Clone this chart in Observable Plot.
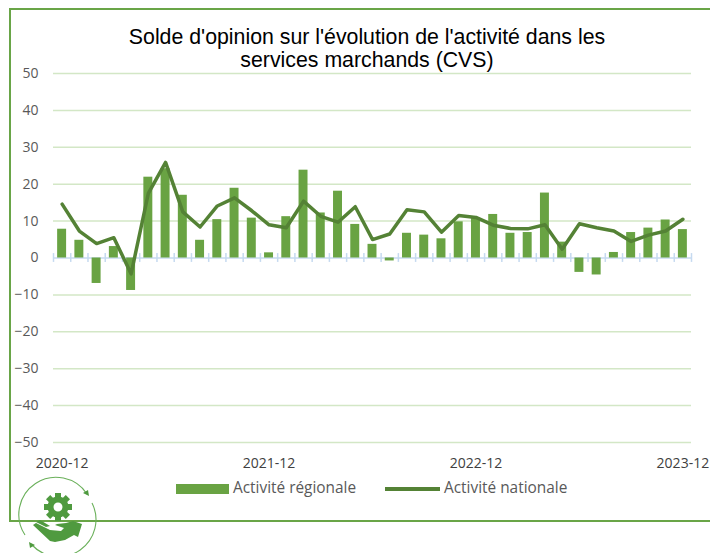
<!DOCTYPE html>
<html lang="fr">
<head>
<meta charset="utf-8">
<script src="https://cdn.jsdelivr.net/npm/d3@7"></script>
<script src="https://cdn.jsdelivr.net/npm/@observablehq/plot@0.6"></script>
<style>
html,body{margin:0;padding:0;background:#fff;width:710px;height:553px;overflow:hidden}
#wrap{position:relative;width:710px;height:553px;overflow:hidden}
#frame{position:absolute;left:9px;top:8px;width:720px;height:514px;border:2px solid #69a547;box-sizing:border-box}
#title{position:absolute;left:0;top:26px;width:734px;text-align:center;font:21.3px/23px "Liberation Sans",Arial,sans-serif;color:#000}
#legend{position:absolute;left:0;top:478px;width:710px;height:20px;font:15.4px/20px "Open Sans",sans-serif;color:#595959}
#legend span{position:absolute;top:0;white-space:nowrap}
#legend i{position:absolute;display:block}
#logo{position:absolute;left:15px;top:475px}
svg{display:block}
#chart{position:absolute;left:0;top:0}
</style>
</head>
<body>
<div id="wrap">
<div id="frame"></div>
<div id="chart"></div>
<div id="title">Solde d'opinion sur l'évolution de l'activité dans les<br>services marchands (CVS)</div>
<div id="legend">
  <i style="left:176px;top:6px;width:53px;height:10px;background:#69a343"></i><span style="left:233px">Activité régionale</span>
  <i style="left:385px;top:9px;width:55px;height:3.5px;background:#548235"></i><span style="left:444px">Activité nationale</span>
</div>
<svg id="logo" width="90" height="78" viewBox="15 475 90 78" fill="#4f9a3f">
  <g fill="none" stroke="#6ab05a" stroke-width="1.1">
    <path d="M25 535 A37 37 0 0 1 87 494"/>
    <path d="M92 503 A37 37 0 0 1 32 545"/>
  </g>
  <path d="M89 496 l-1 -6 l-5 3z"/>
  <path d="M29 542 l1 6 l5 -3z"/>
  <g transform="translate(58 507)">
    <g><rect x="-3" y="-14" width="6" height="6"/><rect x="-3" y="8" width="6" height="6"/><rect x="-14" y="-3" width="6" height="6"/><rect x="8" y="-3" width="6" height="6"/></g>
    <g transform="rotate(45)"><rect x="-3" y="-14" width="6" height="6"/><rect x="-3" y="8" width="6" height="6"/><rect x="-14" y="-3" width="6" height="6"/><rect x="8" y="-3" width="6" height="6"/></g>
    <path fill-rule="evenodd" d="M0 -10.5 A10.5 10.5 0 1 1 0 10.5 A10.5 10.5 0 1 1 0 -10.5z M0 -4.5 A4.5 4.5 0 1 0 0 4.5 A4.5 4.5 0 1 0 0 -4.5z"/>
  </g>
  <path d="M33 525 l3 -2 l14 7 l11 1 l3 -3 l-9 -3 l2 -1 l9 -1 l7 -2 l9 3 l-4 13 l-4 -2 l-9 5 l-10 2 l-5 -1 z"/>
  <path d="M36 522 l4 -2 l10 6 l-4 1z"/>
</svg>
</div>
<script>
const months = ["2020-12","2021-01","2021-02","2021-03","2021-04","2021-05","2021-06","2021-07","2021-08","2021-09","2021-10","2021-11","2021-12","2022-01","2022-02","2022-03","2022-04","2022-05","2022-06","2022-07","2022-08","2022-09","2022-10","2022-11","2022-12","2023-01","2023-02","2023-03","2023-04","2023-05","2023-06","2023-07","2023-08","2023-09","2023-10","2023-11","2023-12"];
const regionale = [7.8,4.8,-6.9,3.1,-8.8,21.9,24.2,17,4.8,10.4,18.9,10.8,1.4,11.2,23.8,12.2,18.1,9.1,3.7,-0.8,6.7,6.2,5.2,9.8,10.7,11.8,6.7,6.9,17.6,4.3,-3.9,-4.6,1.5,6.9,8.1,10.3,7.7];
const nationale = [14.6,7.3,3.9,5.5,-4.3,17.5,25.9,12.5,8.4,14.1,16.3,12.8,9,8.2,15.4,11.3,9.7,13.9,5,6.5,13.1,12.5,7,11.5,11,8.9,8,7.9,9,2.4,9.3,8.2,7.3,4.5,6.2,7.3,10.5];
const yTicks = [-50,-40,-30,-20,-10,0,10,20,30,40,50];
const xTicks = ["2020-12","2021-12","2022-12","2023-12"];

const W = 710, H = 553;
const step = 638 / months.length, pad = 0.48, outer = step * (pad / 2);
const rows = months.map((m, i) => ({m, r: regionale[i], n: nationale[i]}));

const plot = Plot.plot({
  width: W, height: H,
  marginLeft: 53 - outer, marginRight: 19 - outer, marginTop: 73, marginBottom: 111,
  style: {background: "transparent", fontFamily: "'Open Sans',sans-serif", fontSize: "14px", color: "#595959", overflow: "visible"},
  x: {type: "band", domain: months, padding: pad, round: false, label: null},
  y: {domain: [-50, 50], label: null},
  marks: [
    Plot.ruleY(yTicks.filter(d => d !== 0), {y: d => d, stroke: "#d3e7c6", strokeWidth: 1.5, insetLeft: outer, insetRight: outer}),
    Plot.ruleY([0], {stroke: "#c6daf0", strokeWidth: 1.5, insetLeft: outer, insetRight: outer}),
    Plot.ruleX(months, {x: d => d, y1: -1.2, y2: 1.2, dx: -step / 2, stroke: "#c6daf0", strokeWidth: 1.5}),
    Plot.ruleX(months.slice(-1), {x: d => d, y1: -1.2, y2: 1.2, dx: step / 2, stroke: "#c6daf0", strokeWidth: 1.5}),
    Plot.barY(rows, {x: "m", y: "r", fill: "#69a343"}),
    Plot.line(rows, {x: "m", y: "n", stroke: "#548235", strokeWidth: 3.5, strokeLinejoin: "round", strokeLinecap: "round"}),
    Plot.axisY({ticks: yTicks, tickSize: 0, tickPadding: 15 - outer, label: null, fill: "#595959", fontSize: 14}),
    Plot.axisX({ticks: xTicks, tickSize: 0, tickPadding: 16, label: null, fill: "#404040", fontSize: 14})
  ]
});
document.getElementById("chart").appendChild(plot);
</script>
</body>
</html>
